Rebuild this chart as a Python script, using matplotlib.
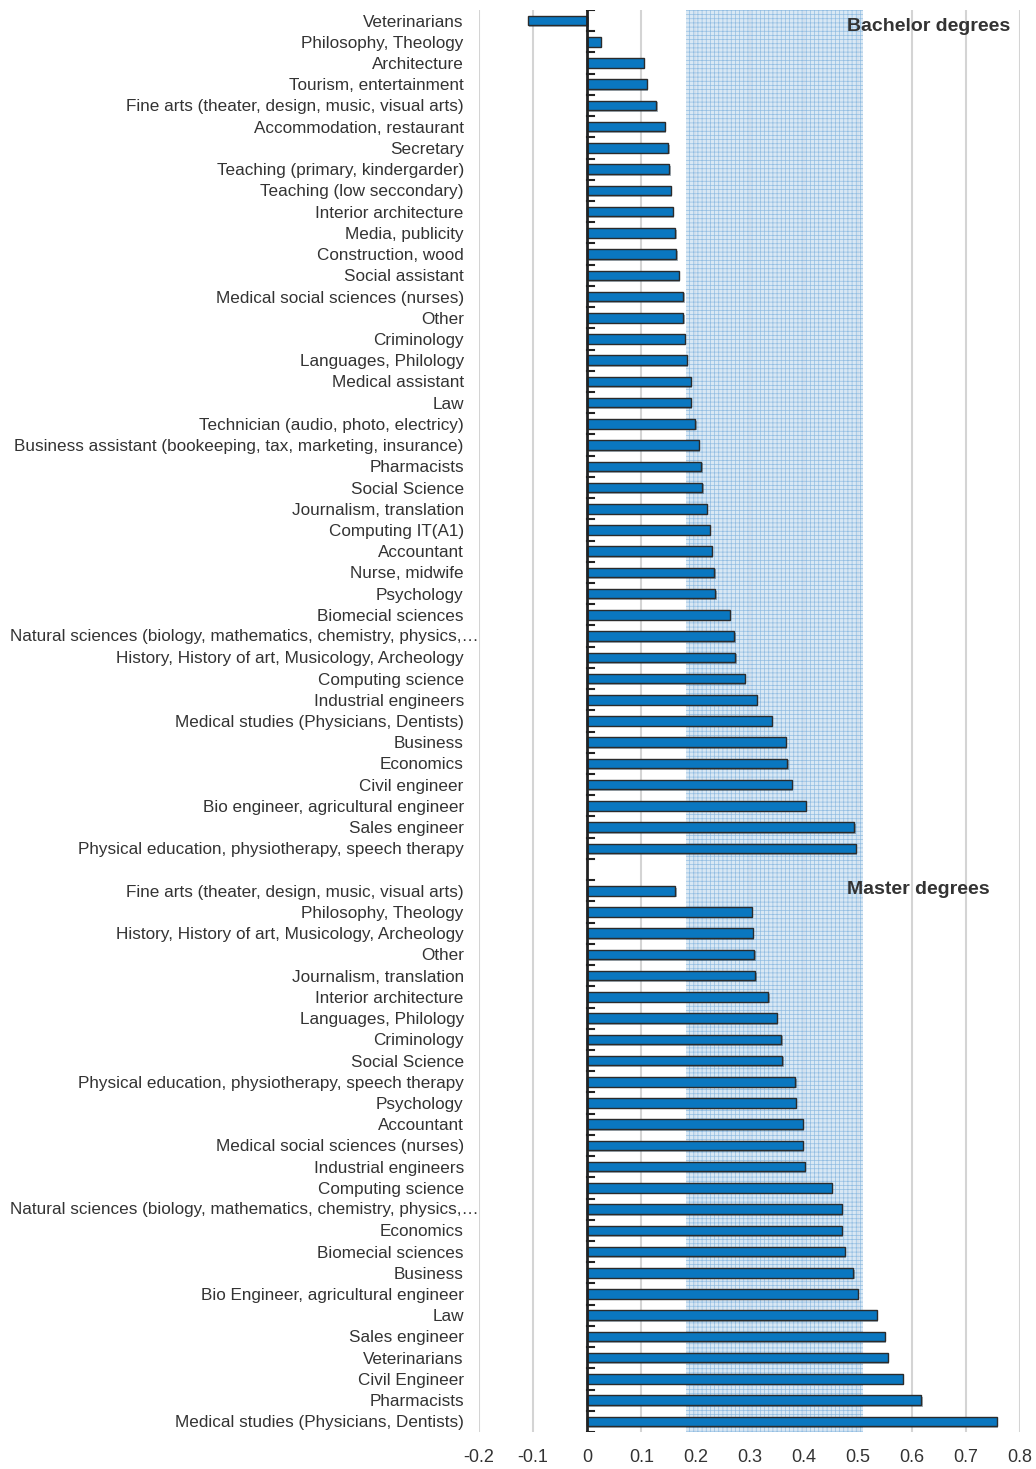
import matplotlib.pyplot as plt
import matplotlib.patheffects as pe
from matplotlib.transforms import blended_transform_factory

plt.rcParams['font.family'] = ['Liberation Sans', 'DejaVu Sans']
plt.rcParams['hatch.linewidth'] = 0.5

# bachelor degrees (top block, top to bottom)
bachelor_labels = [
    "Veterinarians", "Philosophy, Theology", "Architecture", "Tourism, entertainment",
    "Fine arts (theater, design, music, visual arts)", "Accommodation, restaurant",
    "Secretary", "Teaching (primary, kindergarder)", "Teaching (low seccondary)",
    "Interior architecture", "Media, publicity", "Construction, wood", "Social assistant",
    "Medical social sciences (nurses)", "Other", "Criminology", "Languages, Philology",
    "Medical assistant", "Law", "Technician (audio, photo, electricy)",
    "Business assistant (bookeeping, tax, marketing, insurance)", "Pharmacists",
    "Social Science", "Journalism, translation", "Computing IT(A1)", "Accountant",
    "Nurse, midwife", "Psychology", "Biomecial sciences",
    "Natural sciences (biology, mathematics, chemistry, physics,\u2026",
    "History, History of art, Musicology, Archeology", "Computing science",
    "Industrial engineers", "Medical studies (Physicians, Dentists)", "Business",
    "Economics", "Civil engineer", "Bio engineer, agricultural engineer",
    "Sales engineer", "Physical education, physiotherapy, speech therapy",
]
bachelor_values = [
    -0.110, 0.025, 0.104, 0.110, 0.127, 0.143, 0.149, 0.151, 0.154, 0.158,
    0.162, 0.164, 0.169, 0.177, 0.177, 0.180, 0.184, 0.191, 0.191, 0.200,
    0.206, 0.210, 0.213, 0.221, 0.226, 0.230, 0.234, 0.236, 0.263, 0.271,
    0.274, 0.291, 0.313, 0.341, 0.367, 0.370, 0.378, 0.404, 0.493, 0.496,
]

# master degrees (bottom block, top to bottom)
master_labels = [
    "Fine arts (theater, design, music, visual arts)", "Philosophy, Theology",
    "History, History of art, Musicology, Archeology", "Other", "Journalism, translation",
    "Interior architecture", "Languages, Philology", "Criminology", "Social Science",
    "Physical education, physiotherapy, speech therapy", "Psychology", "Accountant",
    "Medical social sciences (nurses)", "Industrial engineers", "Computing science",
    "Natural sciences (biology, mathematics, chemistry, physics,\u2026",
    "Economics", "Biomecial sciences", "Business", "Bio Engineer, agricultural engineer",
    "Law", "Sales engineer", "Veterinarians", "Civil Engineer", "Pharmacists",
    "Medical studies (Physicians, Dentists)",
]
master_values = [
    0.162, 0.304, 0.306, 0.308, 0.310, 0.335, 0.350, 0.358, 0.360, 0.384,
    0.385, 0.398, 0.398, 0.402, 0.452, 0.470, 0.470, 0.476, 0.491, 0.500,
    0.535, 0.550, 0.555, 0.583, 0.617, 0.757,
]

band = (0.182, 0.51)
xticks = [-0.2, -0.1, 0, 0.1, 0.2, 0.3, 0.4, 0.5, 0.6, 0.7, 0.8]

labels = bachelor_labels + [""] + master_labels
n_b = len(bachelor_labels)
pos_b = list(range(n_b))
pos_m = [n_b + 1 + i for i in range(len(master_labels))]
n_rows = len(labels)

fig = plt.figure(figsize=(10.36, 14.69), dpi=100)
ax = fig.add_axes([0.4624, 0.0252, 0.5222, 0.968])

for x in xticks:
    if x != 0:
        ax.axvline(x, color='#d4d4d4', lw=1.5, zorder=0)

ax.axvspan(band[0], band[1], facecolor='#d3e4f3', edgecolor='#86b6df',
           hatch='++++', lw=0, alpha=0.85, zorder=1)

shadow = [pe.SimplePatchShadow(offset=(1.2, -1.2), alpha=0.35), pe.Normal()]
for pos, vals in [(pos_b, bachelor_values), (pos_m, master_values)]:
    bars = ax.barh(pos, vals, height=0.45, color='#0a77c0', edgecolor='#2b2b2b',
                   lw=1, zorder=3)
    for b in bars:
        b.set_path_effects(shadow)

# zero axis with small inward ticks at category boundaries
ax.axvline(0, color='#222222', lw=2, zorder=4)
for k in range(n_rows + 1):
    ax.plot([0, 0.012], [k - 0.5, k - 0.5], color='#222222', lw=1.5, zorder=4)

ax.text(0.48, 0.3, "Bachelor degrees", fontsize=14, fontweight='bold',
        color='#333333', va='center', ha='left', zorder=5)
ax.text(0.48, n_b + 0.95, "Master degrees", fontsize=14, fontweight='bold',
        color='#333333', va='center', ha='left', zorder=5)

# long labels start at the left edge and run into the plot
tick_labels = []
trans = blended_transform_factory(fig.transFigure, ax.transData)
for i, lab in enumerate(labels):
    if lab.endswith('\u2026'):
        tick_labels.append("")
        ax.text(10 / 1036, i, lab, transform=trans, fontsize=12.3,
                color='#333333', ha='left', va='center', clip_on=False)
    else:
        tick_labels.append(lab)

ax.set_xlim(-0.2, 0.8)
ax.set_ylim(n_rows - 0.5, -0.5)
ax.set_yticks(range(n_rows))
ax.set_yticklabels(tick_labels, fontsize=12.3, color='#333333')
ax.set_xticks(xticks)
ax.set_xticklabels([f"{x:g}" for x in xticks], fontsize=13, color='#333333')
ax.tick_params(axis='y', length=0, pad=11)
ax.tick_params(axis='x', length=0, pad=12)
for s in ax.spines.values():
    s.set_visible(False)

fig.savefig('out.png', dpi=100)
